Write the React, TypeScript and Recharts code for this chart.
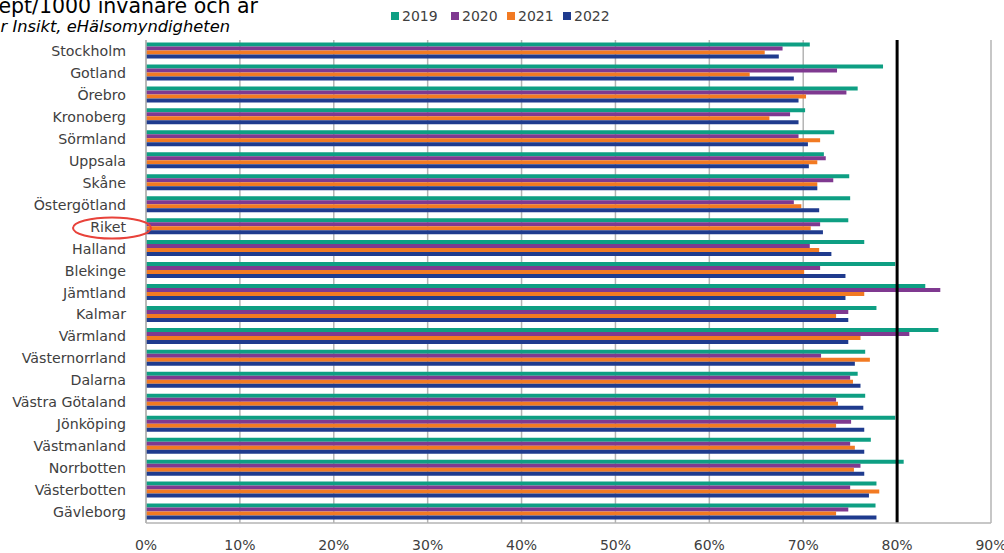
import React from 'react';
import { BarChart, Bar, XAxis, YAxis, CartesianGrid, ReferenceLine } from 'recharts';

const categories = [
  'Stockholm', 'Gotland', 'Örebro', 'Kronoberg', 'Sörmland', 'Uppsala', 'Skåne', 'Östergötland',
  'Riket', 'Halland', 'Blekinge', 'Jämtland', 'Kalmar', 'Värmland', 'Västernorrland', 'Dalarna',
  'Västra Götaland', 'Jönköping', 'Västmanland', 'Norrbotten', 'Västerbotten', 'Gävleborg',
];

const v2019 = [70.7, 78.5, 75.8, 70.2, 73.3, 72.2, 74.9, 75.0, 74.8, 76.5, 79.8, 83.0, 77.8, 84.4, 76.6, 75.8, 76.6, 79.8, 77.2, 80.7, 77.8, 77.7];
const v2020 = [67.8, 73.6, 74.6, 68.6, 69.5, 72.4, 73.2, 69.0, 71.8, 70.7, 71.8, 84.6, 74.8, 81.3, 71.9, 75.0, 73.5, 75.1, 75.0, 76.1, 75.0, 74.8];
const v2021 = [65.9, 64.3, 70.3, 66.4, 71.8, 71.5, 71.5, 69.8, 70.8, 71.7, 70.1, 76.5, 73.5, 76.1, 77.1, 75.3, 73.7, 73.5, 75.5, 75.4, 78.1, 73.5];
const v2022 = [67.4, 69.0, 69.5, 69.5, 70.5, 70.6, 71.5, 71.7, 72.1, 73.0, 74.5, 74.5, 74.8, 74.8, 75.5, 76.1, 76.4, 76.5, 76.5, 76.5, 77.0, 77.8];

const xTicks = [0, 10, 20, 30, 40, 50, 60, 70, 80, 90];
const targetLine = 80;

const series = [
  { key: 'y2019', name: '2019', color: '#0E9F83' },
  { key: 'y2020', name: '2020', color: '#7F3990' },
  { key: 'y2021', name: '2021', color: '#F27A22' },
  { key: 'y2022', name: '2022', color: '#1F3B8E' },
];

const data = categories.map((region, i) => ({
  region,
  y2019: v2019[i],
  y2020: v2020[i],
  y2021: v2021[i],
  y2022: v2022[i],
}));

const FONT = '"DejaVu Sans", Verdana, sans-serif';

export default function App() {
  const legendX = [391, 451, 507, 563];
  return (
    <div style={{ position: 'absolute', left: 0, top: 0, width: 1004, height: 553, background: '#fff', fontFamily: FONT }}>
      <BarChart
        width={1004}
        height={553}
        data={data}
        layout="vertical"
        margin={{ top: 40, right: 13, bottom: 0, left: 0 }}
        barCategoryGap={2.5}
        barGap={0}
      >
        <CartesianGrid horizontal={false} vertical stroke="#B4B4B4" strokeWidth={1.5} />
        <XAxis
          type="number"
          domain={[0, 90]}
          ticks={xTicks}
          tickFormatter={(v) => `${v}%`}
          height={30}
          tickSize={0}
          tickMargin={17}
          axisLine={{ stroke: '#B4B4B4', strokeWidth: 1.5 }}
          tick={{ fill: '#404040', fontSize: 14, fontFamily: FONT }}
          interval={0}
        />
        <XAxis
          xAxisId="top"
          type="number"
          orientation="top"
          domain={[0, 90]}
          height={0}
          tick={false}
          tickSize={0}
          axisLine={{ stroke: '#B4B4B4', strokeWidth: 1.5 }}
        />
        <YAxis
          type="category"
          dataKey="region"
          width={146}
          tickSize={0}
          tickMargin={20}
          interval={0}
          axisLine={{ stroke: '#B4B4B4', strokeWidth: 1.5 }}
          tick={{ fill: '#404040', fontSize: 14.2, fontFamily: FONT }}
        />
        {series.map((s) => (
          <Bar key={s.key} dataKey={s.key} name={s.name} fill={s.color} isAnimationActive={false} />
        ))}
        <ReferenceLine x={targetLine} stroke="#000" strokeWidth={3} />
      </BarChart>
      <svg width={1004} height={553} style={{ position: 'absolute', left: 0, top: 0, pointerEvents: 'none' }}>
        <text x={258} y={13} textAnchor="end" fontSize={20.5} fill="#000" fontFamily={FONT}>ept/1000 invånare och år</text>
        <text x={230} y={32} textAnchor="end" fontSize={16.3} fontStyle="italic" fill="#000" fontFamily={FONT}>r Insikt, eHälsomyndigheten</text>
        {series.map((s, i) => (
          <g key={s.key}>
            <rect x={legendX[i]} y={12} width={8} height={8} fill={s.color} />
            <text x={legendX[i] + 11} y={21} fontSize={14} fill="#404040" fontFamily={FONT}>{s.name}</text>
          </g>
        ))}
        <ellipse cx={112} cy={228} rx={39} ry={10.5} fill="none" stroke="#E8423A" strokeWidth={2} />
      </svg>
    </div>
  );
}
